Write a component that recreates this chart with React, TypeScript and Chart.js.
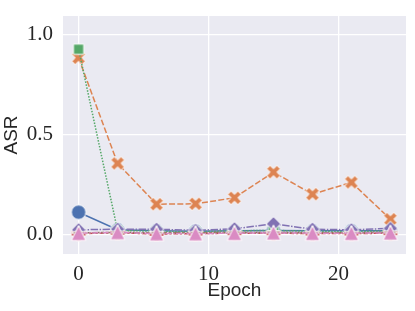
import React, { useEffect, useRef } from "react";
import { Chart, registerables } from "chart.js";

Chart.register(...registerables);

const epochs = [0, 3, 6, 9, 12, 15, 18, 21, 24];
const blueVals = [0.113, 0.025, 0.02, 0.018, 0.02, 0.022, 0.02, 0.02, 0.02];
const orangeVals = [0.885, 0.357, 0.153, 0.155, 0.185, 0.313, 0.203, 0.262, 0.078];
const greenVals = [0.928, 0.022, 0.018, 0.016, 0.02, 0.022, 0.018, 0.016, 0.02];
const redVals = [0.006, 0.01, 0.004, 0.006, 0.008, 0.008, 0.006, 0.006, 0.008];
const purpleVals = [0.025, 0.028, 0.028, 0.022, 0.03, 0.055, 0.028, 0.025, 0.032];
const brownVals = [0.01, 0.012, 0.01, 0.01, 0.012, 0.012, 0.01, 0.01, 0.012];
const pinkVals = [0.008, 0.012, 0.006, 0.006, 0.008, 0.01, 0.008, 0.008, 0.01];

const xTicks = [0, 10, 20];
const yTicks = [0.0, 0.5, 1.0];

const seriesNames = ["s1", "s2", "s3", "s4", "s5", "s6", "s7"];
const seriesValues = [blueVals, orangeVals, greenVals, redVals, purpleVals, brownVals, pinkVals];
const seriesColors = ["#4C72B0", "#DD8452", "#55A868", "#C44E52", "#8172B3", "#937860", "#DA8BC3"];
const seriesMarkers = ["circle", "x", "square", "plus", "diamond", "star", "triangle"];
const seriesDashes: number[][] = [
  [],
  [6, 2.25],
  [1.5, 1.5],
  [4.5, 1.9, 2.25, 1.9],
  [7.5, 1.5, 1.5, 1.5],
  [7.5, 1.5, 3, 1.5],
  [1.5, 1.5, 6, 1.5],
];

function makeMarker(kind: string, color: string, ms = 14.5, ew = 1) {
  const size = 22;
  const c = document.createElement("canvas");
  c.width = size;
  c.height = size;
  const ctx = c.getContext("2d")!;
  ctx.translate(size / 2, size / 2);
  const r = ms / 2;
  ctx.beginPath();
  const poly = (pts: number[][]) => {
    pts.forEach((p, i) => (i === 0 ? ctx.moveTo(p[0], p[1]) : ctx.lineTo(p[0], p[1])));
    ctx.closePath();
  };
  const plusPts = [
    [-1, -3], [1, -3], [1, -1], [3, -1], [3, 1], [1, 1],
    [1, 3], [-1, 3], [-1, 1], [-3, 1], [-3, -1], [-1, -1],
  ].map((p) => [(p[0] / 6) * ms, (p[1] / 6) * ms]);
  if (kind === "circle") {
    ctx.arc(0, 0, r, 0, Math.PI * 2);
  } else if (kind === "square") {
    const h = r / Math.SQRT2;
    poly([[-h, -h], [h, -h], [h, h], [-h, h]]);
  } else if (kind === "diamond") {
    poly([[0, -r], [r, 0], [0, r], [-r, 0]]);
  } else if (kind === "triangle") {
    poly([[0, -r], [-r, r], [r, r]]);
  } else if (kind === "plus") {
    poly(plusPts);
  } else if (kind === "x") {
    const a = Math.PI / 4;
    poly(plusPts.map((p) => [p[0] * Math.cos(a) - p[1] * Math.sin(a), p[0] * Math.sin(a) + p[1] * Math.cos(a)]));
  } else {
    const pts: number[][] = [];
    for (let i = 0; i < 8; i++) {
      const ang = (i * Math.PI) / 4 - Math.PI / 2;
      const rr = i % 2 === 0 ? r : r * 0.4;
      pts.push([Math.cos(ang) * rr, Math.sin(ang) * rr]);
    }
    poly(pts);
  }
  ctx.fillStyle = color;
  ctx.fill();
  ctx.lineWidth = ew;
  ctx.strokeStyle = "#ffffff";
  ctx.stroke();
  return c;
}

const bgPlugin = {
  id: "plotBg",
  beforeDraw(chart: any) {
    const { ctx, chartArea } = chart;
    ctx.save();
    ctx.fillStyle = "#EAEAF2";
    ctx.fillRect(chartArea.left, chartArea.top, chartArea.right - chartArea.left, chartArea.bottom - chartArea.top);
    ctx.restore();
  },
};

function zeroPad(s: any) {
  s.paddingTop = 0;
  s.paddingBottom = 0;
  s.paddingLeft = 0;
  s.paddingRight = 0;
}

export default function App() {
  const ref = useRef<HTMLCanvasElement>(null);
  useEffect(() => {
    const datasets = seriesValues.map((vals, i) => ({
      label: seriesNames[i],
      data: vals.map((v, j) => ({ x: epochs[j], y: v })),
      borderColor: seriesColors[i],
      backgroundColor: seriesColors[i],
      borderWidth: 1.5,
      borderDash: seriesDashes[i],
      pointStyle: makeMarker(seriesMarkers[i], seriesColors[i]),
      pointRadius: 7,
      order: seriesValues.length - i,
      tension: 0,
    }));
    const tickFont = { family: "'Liberation Serif', 'DejaVu Serif', serif", size: 21 };
    const titleFont = { family: "'Liberation Sans', 'DejaVu Sans', sans-serif", size: 19 };
    const chart = new Chart(ref.current!, {
      type: "line",
      data: { datasets },
      plugins: [bgPlugin],
      options: {
        animation: false,
        responsive: false,
        layout: { padding: { top: 16, right: 9, left: 0, bottom: 0 } },
        plugins: { legend: { display: false }, tooltip: { enabled: false } },
        scales: {
          x: {
            type: "linear",
            min: -1.2,
            max: 25.2,
            afterBuildTicks: (s: any) => {
              s.ticks = xTicks.map((v) => ({ value: v }));
            },
            afterFit: (s: any) => {
              s.height = 57;
              zeroPad(s);
            },
            ticks: {
              padding: 8,
              color: "#262626",
              font: tickFont,
              callback: (v: any) => String(v),
            },
            grid: { color: "#ffffff", lineWidth: 1.3, drawTicks: false },
            border: { display: false },
            title: {
              display: true,
              text: "Epoch",
              color: "#262626",
              font: titleFont,
              padding: { top: 0, bottom: 9 },
            },
          },
          y: {
            type: "linear",
            min: -0.096,
            max: 1.094,
            afterBuildTicks: (s: any) => {
              s.ticks = yTicks.map((v) => ({ value: v }));
            },
            afterFit: (s: any) => {
              s.width = 63;
              zeroPad(s);
            },
            ticks: {
              padding: 10,
              color: "#262626",
              font: tickFont,
              callback: (v: any) => Number(v).toFixed(1),
            },
            grid: { color: "#ffffff", lineWidth: 1.3, drawTicks: false },
            border: { display: false },
            title: {
              display: true,
              text: "ASR",
              color: "#262626",
              font: titleFont,
              padding: { top: 0, bottom: 0 },
            },
          },
        },
      },
    });
    return () => chart.destroy();
  }, []);
  return (
    <div style={{ position: "fixed", left: 0, top: 0, width: 415, height: 311, background: "#fff" }}>
      <canvas ref={ref} width={415} height={311} />
    </div>
  );
}
